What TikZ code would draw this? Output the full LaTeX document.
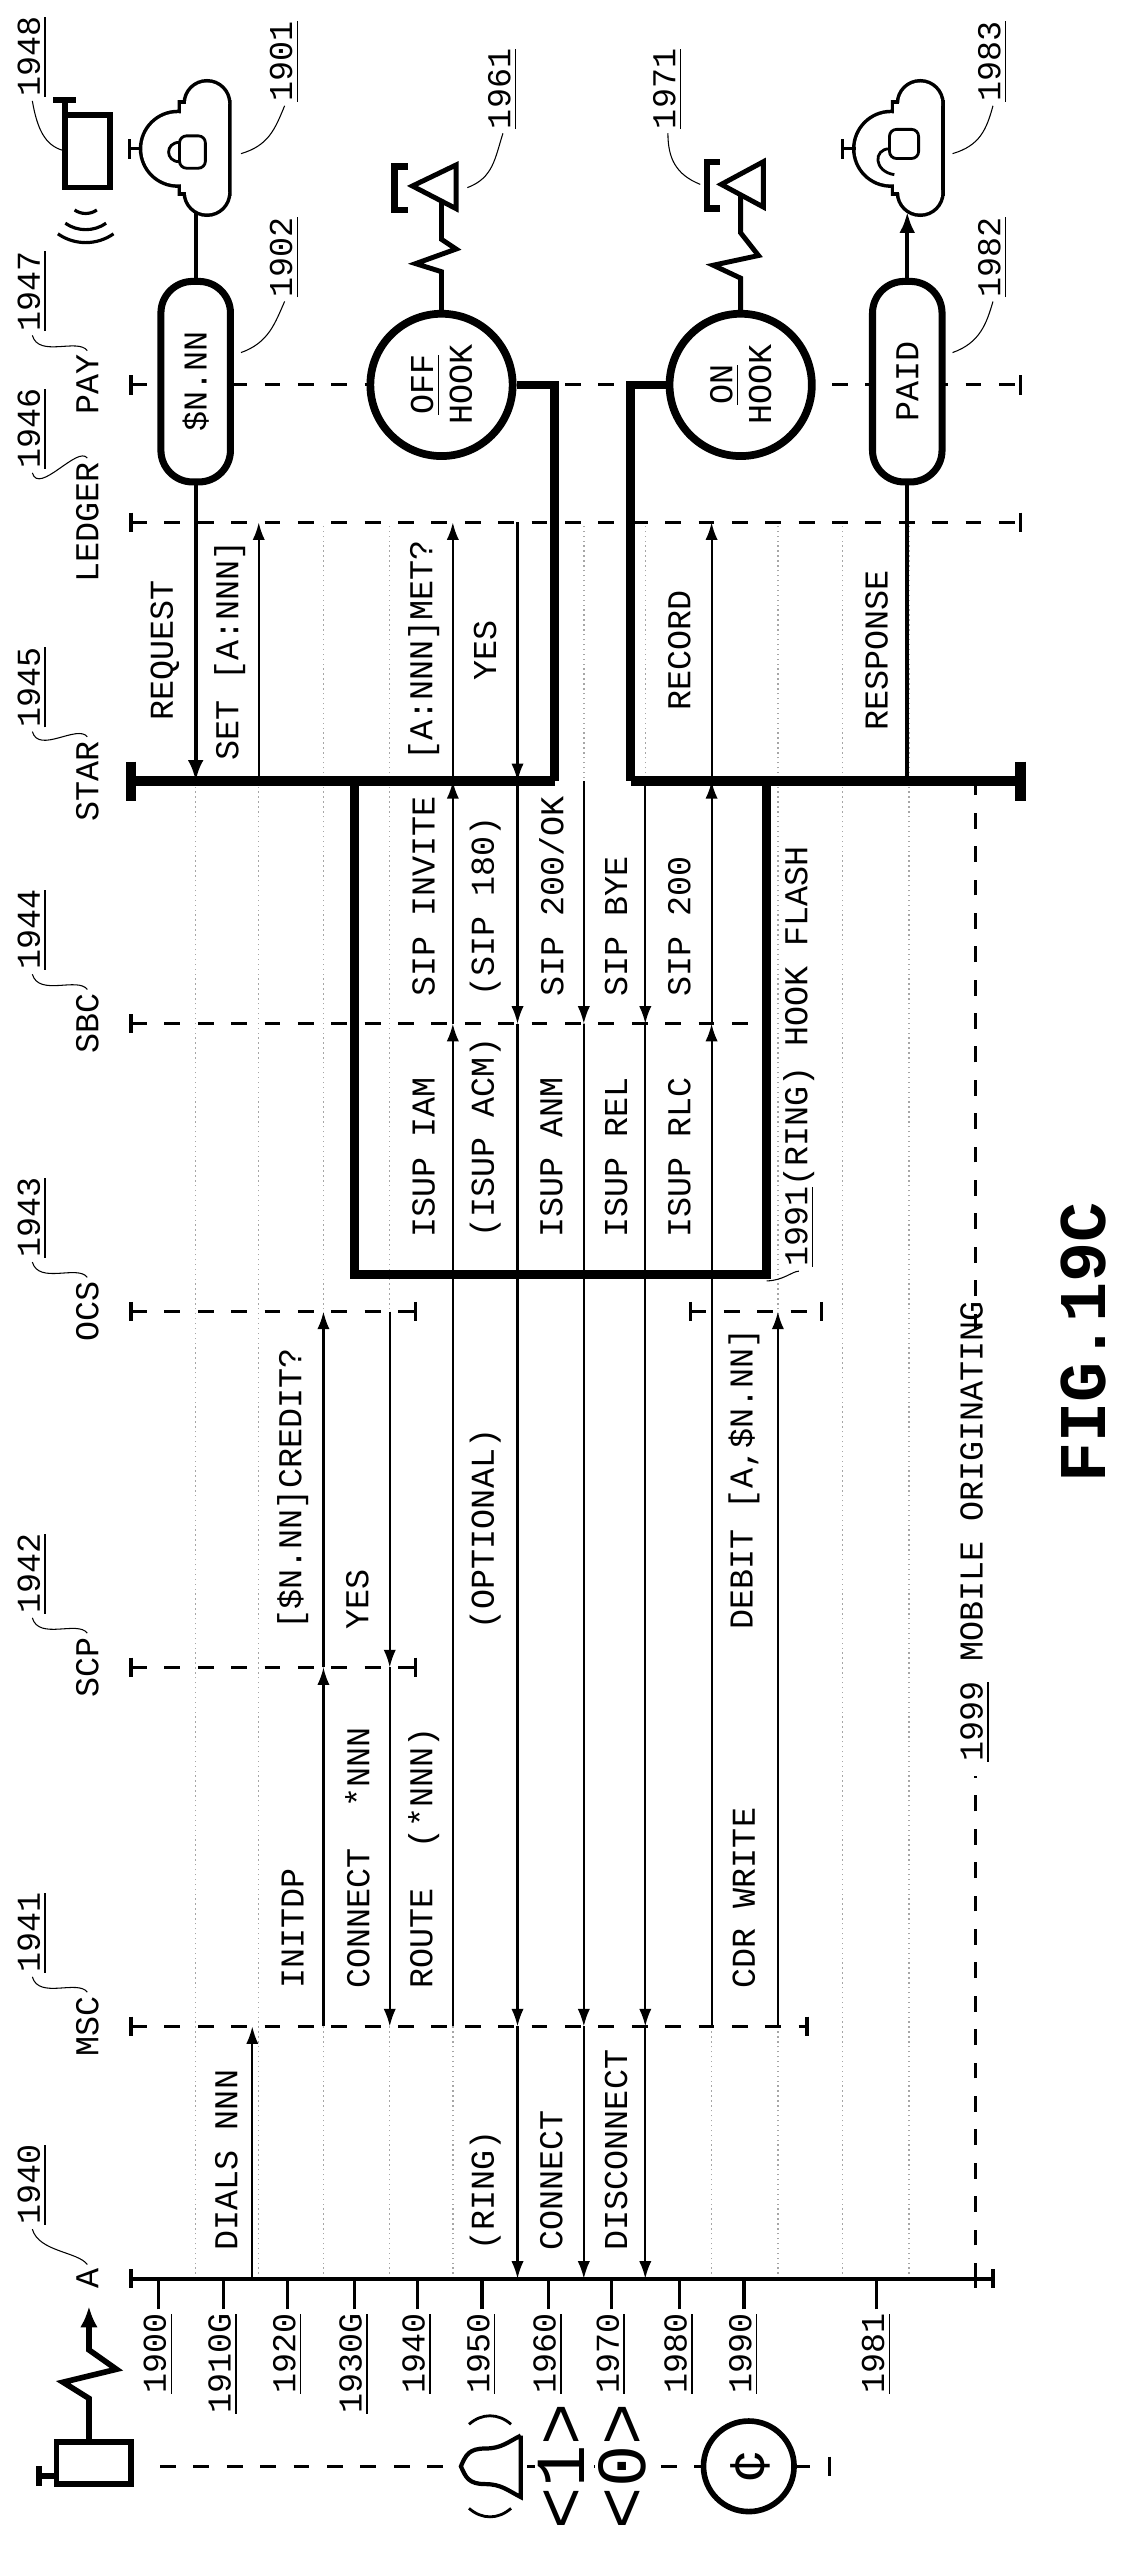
\documentclass[tikz,border=0pt]{standalone}
\usepackage{fontspec}
\setmonofont{Liberation Mono}
\usetikzlibrary{arrows.meta}

\newcommand\pxu{0.016171cm}
\newcommand\msg[3]{\draw[msg] (#1,0 |- #2) -- (#1,0 |- #3);}
\newcommand\cloudicon[1]{%
  \draw[line width=2pt] (#1-11,92) circle[radius=22] (#1+7,64) circle[radius=13]
    (#1+7,119) circle[radius=13] (#1-9,64) rectangle (#1+20,119);
  \fill[white] (#1-11,92) circle[radius=22];
  \fill[white] (#1+7,64) circle[radius=13];
  \fill[white] (#1+7,119) circle[radius=13];
  \fill[white] (#1-9,64) rectangle (#1+20,119);
  \draw[thick] (#1-33,92) -- (#1-41,92) (#1-41,86) -- (#1-41,98);}

\tikzset{
  lbl/.style={rotate=90, font=\ttfamily\fontsize{9.5}{11}\selectfont, inner sep=1pt},
  life/.style={line width=0.9pt, dash pattern=on 4.5pt off 5pt},
  msg/.style={line width=0.6pt, -{Latex[length=5pt,width=3.5pt]}},
  req/.style={line width=1.2pt},
  wire/.style={line width=2.5pt},
  grid/.style={gray!70, line width=0.4pt, densely dotted},
  lead/.style={line width=0.3pt},
  pill/.style={lbl, draw, line width=2pt, fill=white, rounded corners=9pt,
    minimum width=124*\pxu, minimum height=43*\pxu},
  hook/.style={lbl, draw, circle, line width=2.2pt, fill=white,
    minimum size=88*\pxu, align=center},
}

\begin{document}
\begin{tikzpicture}[x=\pxu, y=-\pxu]
\useasboundingbox (0,0) rectangle (700,1578);

%% lifelines
\foreach \nm/\ly/\num in {A/1409/1940, MSC/1253/1941, SCP/1031/1942, OCS/811/1943,
    SBC/633/1944, STAR/483/1945, LEDGER/323/1946, PAY/238/1947}{
  \coordinate (\nm) at (0,\ly);
  \node[lbl] (l\nm) at (54,\ly) {\nm};
  \node[lbl] (n\num) at (20,\ly-58) {\underline{\num}};
  \draw[lead] (l\nm.east) .. controls +(-6,-8) and +(4,14) .. (n\num.west);
  \draw[line width=0.9pt] (81,\ly-6) -- (81,\ly+6);
}

%% row grid
\foreach \x in {121,160,200,241,280,320,361,399,440,481,521,562}
  \draw[grid] (\x,0 |- A) -- (\x,0 |- LEDGER);

\draw[line width=1.2pt] (81,0 |- A) -- (614,0 |- A);
\draw[line width=0.9pt] (614,1403) -- (614,1415) (603,1403) -- (603,1415);
\draw[life] (81,0 |- MSC) -- (499,0 |- MSC);
\draw[line width=0.9pt] (499,1247) -- (499,1259);
\draw[life] (81,0 |- SCP) -- (257,0 |- SCP);
\draw[line width=0.9pt] (257,1025) -- (257,1037);
\draw[life] (81,0 |- OCS) -- (257,0 |- OCS) (427,0 |- OCS) -- (508,0 |- OCS);
\draw[line width=0.9pt] (257,805) -- (257,817) (427,805) -- (427,817) (508,805) -- (508,817);
\draw[life] (81,0 |- SBC) -- (474,0 |- SBC);
\draw[life] (81,0 |- LEDGER) -- (631,0 |- LEDGER);
\draw[line width=0.9pt] (631,317) -- (631,329);
\draw[life] (81,0 |- PAY) -- (631,0 |- PAY);
\draw[line width=0.9pt] (631,232) -- (631,244);
\draw[line width=3pt] (81,0 |- STAR) -- (343,0 |- STAR) (390,0 |- STAR) -- (631,0 |- STAR);
\draw[line width=3pt] (81,471) -- (81,495) (631,471) -- (631,495);

%% 1991 box and hook wires
\draw[wire] (219,0 |- STAR) -- (219,788) -- (474,788) -- (474,0 |- STAR);
\node[lbl, anchor=west] (t1991) at (494,786) {\underline{1991}(RING) HOOK FLASH};
\draw[lead] (474,792) .. controls (484,792) and (490,786) .. (t1991.west);

\node[hook] (off) at (273,238) {\underline{OFF}\\HOOK};
\node[hook] (on) at (458,238) {\underline{ON}\\HOOK};
\draw[wire] (off.south) -| (343,0 |- STAR);
\draw[wire] (on.north) -| (390,0 |- STAR);

%% handsets
\draw[line width=1.4pt] (off.east) -- (273,168) -- (257,163) -- (282,154) -- (273,148) -- (273,124);
\draw[line width=1.4pt, fill=white] (255,115) -- (282,102) -- (282,129) -- cycle;
\draw[line width=1.8pt] (252,103) -- (244,103) -- (244,130) -- (252,130);
\draw[line width=1.4pt] (on.east) -- (458,172) -- (441,164) -- (469,158) -- (458,144) -- (458,120);
\draw[line width=1.4pt, fill=white] (446,114) -- (472,100) -- (472,128) -- cycle;
\draw[line width=1.8pt] (445,100) -- (437,100) -- (437,129) -- (445,129);
\node[lbl] (n1961) at (311,55) {\underline{1961}};
\draw[lead] (289,116) .. controls (305,110) and (306,98) .. (n1961.west);
\node[lbl] (n1971) at (413,55) {\underline{1971}};
\draw[lead] (433,114) .. controls (418,108) and (413,98) .. (n1971.west);

%% payment clouds and pills
\cloudicon{121}
\draw[thick, rounded corners=2pt] (111,84) rectangle (127,104);
\draw[thick] (111,88) .. controls (102,88) and (102,100) .. (111,100);
\cloudicon{562}
\draw[thick, rounded corners=2pt] (550,80) rectangle (568,98);
\draw[thick] (550,92) .. controls (540,92) and (540,106) .. (553,108);
\node[pill] (fee) at (121,236) {\$N.NN};
\node[pill] (paid) at (561,236) {PAID};
\draw[req] (121,131) -- (fee.east);
\draw[req, -{Latex[length=6pt,width=4.5pt]}] (fee.west) -- (121,0 |- STAR);
\draw[req] (561,0 |- STAR) -- (paid.west);
\draw[req, -{Latex[length=6pt,width=4.5pt]}] (paid.east) -- (561,131);
\node[lbl] (n1901) at (176,38) {\underline{1901}};
\draw[lead] (149,95) .. controls (166,90) and (170,80) .. (n1901.west);
\node[lbl] (n1902) at (176,159) {\underline{1902}};
\draw[lead] (149,218) .. controls (166,212) and (170,200) .. (n1902.west);
\node[lbl] (n1982) at (614,159) {\underline{1982}};
\draw[lead] (589,218) .. controls (606,212) and (610,200) .. (n1982.west);
\node[lbl] (n1983) at (614,38) {\underline{1983}};
\draw[lead] (589,95) .. controls (606,90) and (610,80) .. (n1983.west);

%% mobile 1948
\draw[line width=1.6pt] (40,71) rectangle (68,116);
\draw[line width=1.6pt] (40,71) -- (40,62) (33,62) -- (47,62);
\foreach \r in {12,22,30}
  \draw[line width=0.9pt] (53,120) ++(55:\r) arc[start angle=55, end angle=125, radius=\r];
\node[lbl] (n1948) at (20,35) {\underline{1948}};
\draw[lead] (39,93) .. controls (28,90) and (23,80) .. (n1948.west);

%% messages
\msg{156}{A}{MSC}
\msg{200}{MSC}{SCP} \msg{200}{SCP}{OCS}
\msg{241}{OCS}{SCP} \msg{241}{SCP}{MSC}
\msg{280}{MSC}{SBC} \msg{280}{SBC}{STAR} \msg{280}{STAR}{LEDGER}
\msg{320}{LEDGER}{STAR} \msg{320}{STAR}{SBC} \msg{320}{SBC}{MSC} \msg{320}{MSC}{A}
\msg{361}{STAR}{SBC} \msg{361}{SBC}{MSC} \msg{361}{MSC}{A}
\msg{399}{STAR}{SBC} \msg{399}{SBC}{MSC} \msg{399}{MSC}{A}
\msg{440}{MSC}{SBC} \msg{440}{SBC}{STAR} \msg{440}{STAR}{LEDGER}
\msg{481}{MSC}{OCS}
\msg{160}{STAR}{LEDGER}

%% message texts
\foreach \x/\t in {140/DIALS NNN, 300/(RING), 341/CONNECT, 381/DISCONNECT}
  \node[lbl, anchor=west] at (\x,1394) {\t};
\foreach \x/\t in {181/INITDP, 221/CONNECT\ \ *NNN, 262/ROUTE\ \ (*NNN), 460/CDR WRITE}
  \node[lbl, anchor=west] at (\x,1232) {\t};
\foreach \x/\t in {181/[\$N.NN]CREDIT?, 221/YES, 300/(OPTIONAL), 460/DEBIT [A{,}\$N.NN]}
  \node[lbl, anchor=west] at (\x,1010) {\t};
\foreach \x/\t in {262/ISUP IAM, 300/(ISUP ACM), 341/ISUP ANM, 381/ISUP REL, 420/ISUP RLC}
  \node[lbl, anchor=west] at (\x,768) {\t};
\foreach \x/\t in {262/SIP INVITE, 300/(SIP 180), 341/{SIP 200/OK}, 381/SIP BYE, 420/SIP 200}
  \node[lbl, anchor=west] at (\x,619) {\t};
\foreach \x/\t in {102/REQUEST, 142/SET [A:NNN], 262/[A:NNN]MET?, 300/YES, 420/RECORD, 542/RESPONSE}
  \node[lbl] at (\x,402) {\t};

%% 1999 mobile originating
\draw[life] (603,0 |- A) -- (603,1098) (603,822) -- (603,0 |- STAR);
\node[lbl, anchor=west] (t1999) at (603,1092) {\underline{1999} MOBILE ORIGINATING};

%% row labels
\foreach \x/\t in {98/1900, 138/1910G, 178/1920, 219/1930G, 258/1940, 298/1950,
    339/1960, 378/1970, 420/1980, 460/1990, 542/1981}{
  \node[lbl, anchor=east] (r\t) at (\x,1428) {\underline{\t}};
  \draw[line width=0.9pt] (r\t.east) -- (r\t.east |- A);
}

%% legend
\draw[line width=1.6pt] (35,1510) rectangle (81,1536);
\draw[line width=1.6pt] (35,1531) -- (24,1531) (24,1525) -- (24,1537);
\draw[line width=1.6pt, -{Latex[length=6pt,width=5pt]}] (55,1510) -- (55,1483) -- (39,1473)
  -- (72,1465) -- (55,1453) -- (55,1426);
\draw[life] (99,1525) -- (513,1525);
\draw[line width=0.9pt] (513,1519) -- (513,1531);
\draw[line width=1.2pt, fill=white] (322,1506) -- (322,1544)
  .. controls (314,1540) and (310,1536) .. (300,1536)
  .. controls (290,1536) and (288,1532) .. (285,1525)
  .. controls (288,1518) and (290,1514) .. (300,1514)
  .. controls (310,1514) and (314,1510) .. (322,1506);
\draw[line width=0.8pt] (290,1499) .. controls (298,1492) and (308,1492) .. (316,1499);
\draw[line width=0.8pt] (290,1551) .. controls (298,1558) and (308,1558) .. (316,1551);
\node[lbl, fill=white, font=\ttfamily\fontsize{20}{22}\selectfont] (ring1) at (347,1525) {<1>};
\node[lbl, fill=white, font=\ttfamily\fontsize{20}{22}\selectfont] (ring0) at (385,1525) {<0>};
\node[lbl, draw, circle, line width=1.6pt, fill=white, minimum size=56*\pxu,
  font=\ttfamily\fontsize{16}{18}\selectfont] (cent) at (463,1525) {¢};

\node[lbl, font=\ttfamily\bfseries\fontsize{19}{22}\selectfont] (fig) at (670,830) {FIG.19C};
\end{tikzpicture}
\end{document}
